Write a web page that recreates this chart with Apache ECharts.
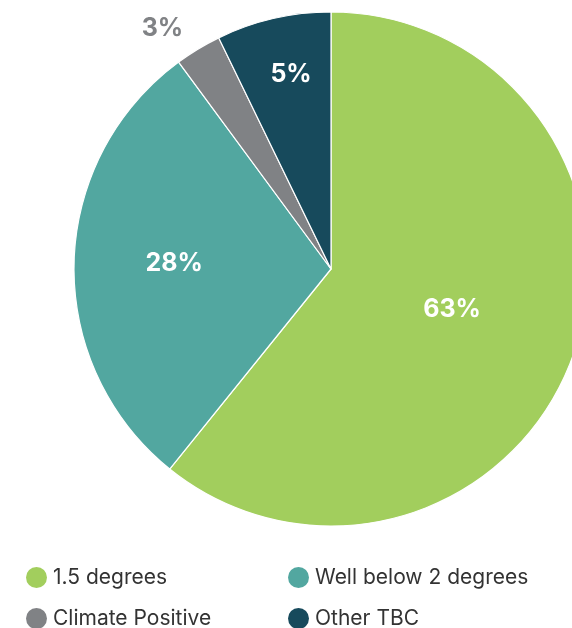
<!DOCTYPE html>
<html>
<head>
<meta charset="utf-8">
<script src="https://cdn.jsdelivr.net/npm/echarts@6/dist/echarts.min.js"></script>
<style>
html,body{margin:0;padding:0;background:#fff;}
#chart{width:572px;height:628px;}
</style>
</head>
<body>
<div id="chart"></div>
<script>
// Data
const categories = ['1.5 degrees', 'Well below 2 degrees', 'Climate Positive', 'Other TBC'];
const values = [60.8, 29.1, 2.9, 7.2];
const pctLabels = ['63%', '28%', '3%', '5%'];

const colors = ['#A2CE5D', '#52A7A0', '#808285', '#174A5C'];
const labelColors = ['#ffffff', '#ffffff', '#808285', '#ffffff'];
// label placement: [fraction of radius, angular shift in degrees from slice middle]
const labelPolar = [[0.494, -2], [0.611, 1.4], [1.148, -3.7], [0.782, 1.5]];
// legend grid: [left, top]
const legendPos = [[26, 567], [288, 567], [26, 608], [288, 608]];

const CX = 331, CY = 269, R = 257;

const chart = echarts.init(document.getElementById('chart'));
chart.setOption({
  animation: false,
  color: colors,
  legend: categories.map((c, i) => ({
    orient: 'horizontal',
    left: legendPos[i][0], top: legendPos[i][1],
    padding: 0,
    itemWidth: 21, itemHeight: 21, itemGap: 0, icon: 'circle',
    itemStyle: { borderWidth: 0 },
    data: [c],
    textStyle: { fontFamily: 'Inter', fontSize: 21, color: '#333333', padding: [7, 0, 0, 1] }
  })),
  series: [{
    type: 'pie',
    center: [CX, CY],
    radius: [0, R],
    startAngle: 90,
    clockwise: true,
    silent: true,
    itemStyle: { borderColor: '#ffffff', borderWidth: 1.2 },
    label: {
      show: true,
      position: 'inside',
      fontFamily: 'Inter',
      fontWeight: 'bold',
      fontSize: 25,
      formatter: p => pctLabels[p.dataIndex]
    },
    labelLine: { show: false },
    labelLayout: function (p) {
      const pol = labelPolar[p.dataIndex];
      const r = p.labelRect;
      const lx = r.x + r.width / 2, ly = r.y + r.height / 2;
      const a = Math.atan2(ly - CY, lx - CX) + pol[1] * Math.PI / 180;
      const tx = CX + Math.cos(a) * R * pol[0];
      const ty = CY + Math.sin(a) * R * pol[0] + 2;
      return { dx: tx - lx, dy: ty - ly };
    },
    data: categories.map((c, i) => ({
      name: c,
      value: values[i],
      label: { color: labelColors[i] }
    }))
  }]
});
</script>
</body>
</html>
